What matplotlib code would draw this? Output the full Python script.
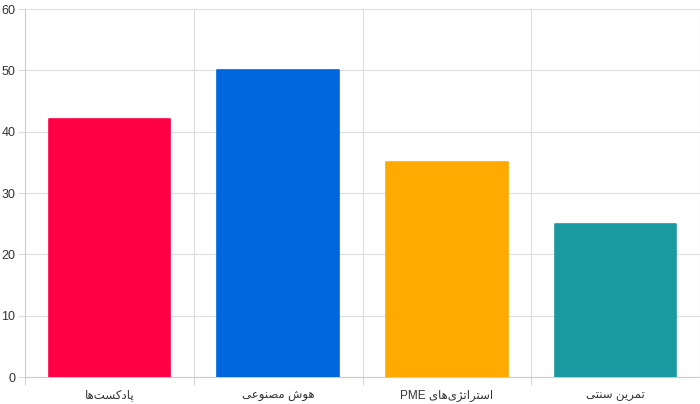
import matplotlib
matplotlib.use("Agg")
import matplotlib.pyplot as plt
from matplotlib.ticker import MultipleLocator, FixedLocator

plt.rcParams["font.family"] = ["Liberation Sans", "DejaVu Sans"]

# Persian labels (logical order) and values
labels = ["پادکست‌ها", "هوش مصنوعی", "استراتژی‌های PME", "تمرین سنتی"]
values = [42, 50, 35, 25]
colors = ["#ff0044", "#0066dd", "#ffaa00", "#1a9aa0"]

# presentation forms: isolated, final, initial, medial
FORMS = {
    "ا": ("\ufe8d", "\ufe8e", None, None),
    "ب": ("\ufe8f", "\ufe90", "\ufe91", "\ufe92"),
    "پ": ("\ufb56", "\ufb57", "\ufb58", "\ufb59"),
    "ت": ("\ufe95", "\ufe96", "\ufe97", "\ufe98"),
    "د": ("\ufea9", "\ufeaa", None, None),
    "ر": ("\ufead", "\ufeae", None, None),
    "ژ": ("\ufb8a", "\ufb8b", None, None),
    "س": ("\ufeb1", "\ufeb2", "\ufeb3", "\ufeb4"),
    "ش": ("\ufeb5", "\ufeb6", "\ufeb7", "\ufeb8"),
    "ص": ("\ufeb9", "\ufeba", "\ufebb", "\ufebc"),
    "ع": ("\ufec9", "\ufeca", "\ufecb", "\ufecc"),
    "ک": ("\ufb8e", "\ufb8f", "\ufb90", "\ufb91"),
    "م": ("\ufee1", "\ufee2", "\ufee3", "\ufee4"),
    "ن": ("\ufee5", "\ufee6", "\ufee7", "\ufee8"),
    "ه": ("\ufee9", "\ufeea", "\ufeeb", "\ufeec"),
    "و": ("\ufeed", "\ufeee", None, None),
    "ی": ("\ufbfc", "\ufbfd", "\ufbfe", "\ufbff"),
}


def shape_word(word):
    out = []
    n = len(word)
    for i, ch in enumerate(word):
        if ch not in FORMS:
            if ch != "\u200c":
                out.append(ch)
            continue
        prev = word[i - 1] if i > 0 else None
        nxt = word[i + 1] if i < n - 1 else None
        joins_prev = prev in FORMS and FORMS[prev][2] is not None
        joins_next = nxt in FORMS and FORMS[ch][2] is not None
        iso, fin, ini, med = FORMS[ch]
        if joins_prev and joins_next:
            out.append(med)
        elif joins_prev:
            out.append(fin)
        elif joins_next:
            out.append(ini)
        else:
            out.append(iso)
    return "".join(out)


def rtl(text):
    parts = text.split(" ")
    vis = []
    for p in parts:
        if any(c in FORMS for c in p):
            vis.append(shape_word(p)[::-1])
        else:
            vis.append(p)
    return " ".join(vis[::-1])


fig = plt.figure(figsize=(7, 4.04), dpi=100)
ax = fig.add_axes([25 / 700, 1 - 377 / 404, 675 / 700, 368 / 404])

x = list(range(len(values)))
ax.bar(x, values, width=0.72, color=colors, edgecolor=colors, linewidth=1.2,
       joinstyle="round", zorder=3)

ax.set_xlim(-0.5, len(values) - 0.5)
ax.set_ylim(0, 60)
ax.yaxis.set_major_locator(MultipleLocator(10))

ax.set_xticks(x)
ax.set_xticklabels([rtl(l) for l in labels], fontsize=8.5, color="#333333")
ax.xaxis.set_minor_locator(FixedLocator([-0.5 + i for i in range(len(values) + 1)]))
ax.tick_params(axis="x", which="major", length=0, pad=9)
ax.tick_params(axis="x", which="minor", length=6, color="#cccccc")
ax.tick_params(axis="y", length=5, color="#dddddd", labelsize=9, labelcolor="#333333", pad=2)

ax.grid(axis="y", color="#dddddd", linewidth=0.8, zorder=0)
ax.grid(axis="x", which="minor", color="#dddddd", linewidth=0.8, zorder=0)

for s in ["top", "right"]:
    ax.spines[s].set_visible(False)
ax.spines["left"].set_color("#cccccc")
ax.spines["bottom"].set_color("#cccccc")

fig.savefig("out.png", dpi=100)
